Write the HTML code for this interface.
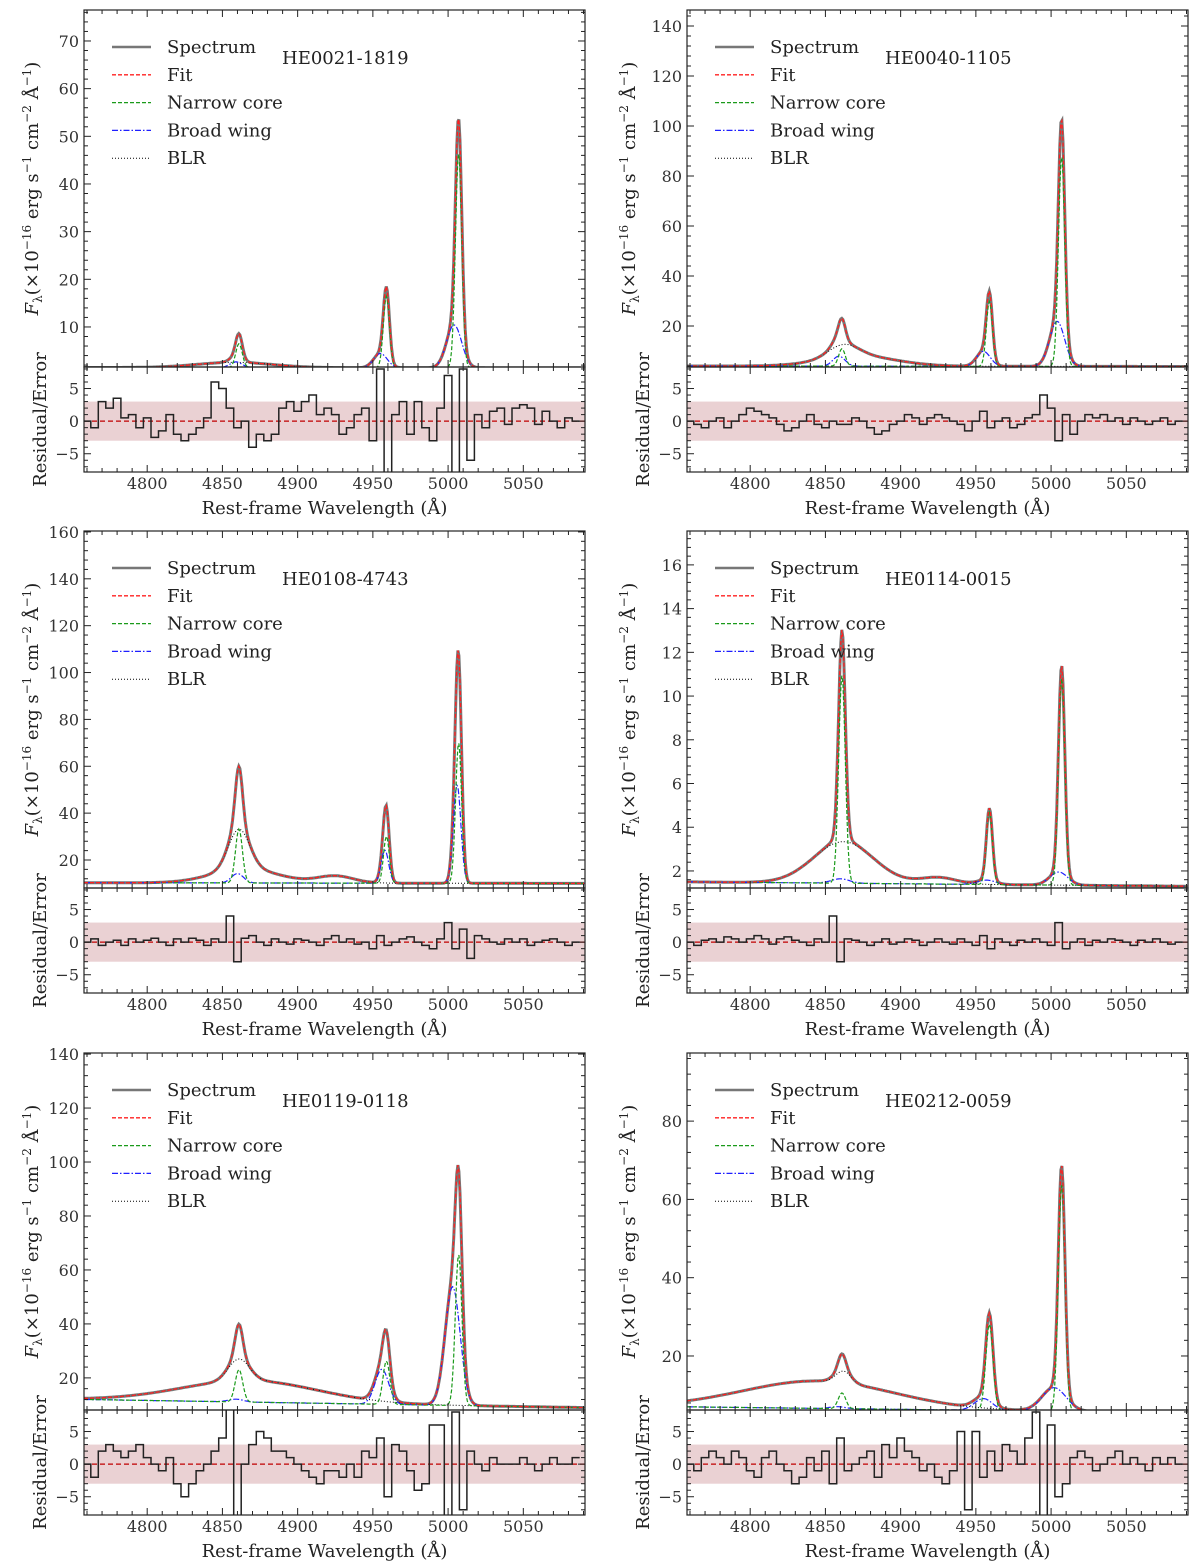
<!DOCTYPE html>
<html><head><meta charset="utf-8"><style>
body{margin:0;background:#fff;}
svg{display:block;font-family:"DejaVu Serif","Liberation Serif",serif;}
</style></head><body>
<svg id="fig" width="1200" height="1562" viewBox="0 0 1200 1562" xmlns="http://www.w3.org/2000/svg"></svg>
<script>
// ---- data ----
const xTicks = [4800,4850,4900,4950,5000,5050];
const residTicks = [-5,0,5];
const names = ["HE0021-1819","HE0040-1105","HE0108-4743","HE0114-0015","HE0119-0118","HE0212-0059"];
const yRanges = [[1.6,76.5],[3.6,146.4],[8.05,160.4],[1.22,17.55],[8.1,140.4],[6.2,97.4]];
const yTicks1=[10,20,30,40,50,60,70], yTicks2=[20,40,60,80,100,120,140], yTicks3=[20,40,60,80,100,120,140,160];
const yTicks4=[2,4,6,8,10,12,14,16], yTicks5=[20,40,60,80,100,120,140], yTicks6=[20,40,60,80];
// continuum [value at 4760, value at 5090]
const cont1=[1.5,1.4], cont2=[4,3.8], cont3=[10.3,10], cont4=[1.5,1.3], cont5=[12,9], cont6=[7,5.5];
// gaussian components [center, amplitude, sigma]
const narrow1=[[4861,5,2.2],[4959,15,2.0],[5007,45,2.1]];
const wing1=[[4859,1.2,4],[4955,3,4.5],[5004,9,5]];
const blr1=[[4858,1.1,25]];
const narrow2=[[4861,7,2.2],[4959,26,2.0],[5007,84,2.1]];
const wing2=[[4859,4,4],[4955,6,4.5],[5004,18,5]];
const blr2=[[4862,5,10],[4872,4,25]];
const narrow3=[[4861,23,2.3],[4959,20,1.9],[5007,60,2.0]];
const wing3=[[4860,4,4],[4958,14,2.5],[5006,42,2.5]];
const blr3=[[4861,17,7],[4865,6,22],[4925,3,12]];
const narrow4=[[4861,9.5,2.2],[4959,3.3,2.0],[5007,9.5,2.1]];
const wing4=[[4860,0.2,6],[4957,0.2,6],[5005,0.6,6]];
const blr4=[[4862,1.9,20],[4925,0.3,12]];
const narrow5=[[4861,12,2.5],[4959,16,2.3],[5007,56,2.2]];
const wing5=[[4859,1,5],[4956,13,4.5],[5003,44,5]];
const blr5=[[4861,8,7],[4868,8,45]];
const narrow6=[[4861,4,2.5],[4959,22,2.4],[5007,58,2.2]];
const wing6=[[4858,0.5,5],[4955,3,6],[5002,6,8]];
const blr6=[[4845,7,50],[4862,3,5]];
// residuals sampled every 5 A from 4760
const res1=[0,-1,3,2,3.5,0.5,1,-1,0.5,-2.5,-1.5,1,-2,-3,-2,-1,0.5,6,5,2,-1,0,-4,-2,-3,-2,2,3,1.5,3,4,1,2,1,-2,-1,1,2,-3,8,-8,1,3,-2,3,-1,-3,2,7,-8,8,-6,1,-1,1.5,2,-0.5,2,2.5,2,-0.5,1.5,0,-1,0.5,0];
const res2=[0,-0.5,-1,0,0.5,-1,0,1,2,1.5,1,0.5,-0.5,-1.5,-1,0,1,-0.5,-1,0,-0.5,-0.5,0.5,0,-1,-2,-1.5,-0.5,0,1,0.5,-0.5,0.5,1,0.5,0,-0.5,-1.5,0,1.5,-1,0,0.5,-1,-0.5,0.5,1,4,2,-3,1,-2,0,1,0.5,1,0,0.5,-0.5,0.5,0,-0.5,0,0.5,-0.5,0];
const res3=[0,0.5,-0.5,0,0.3,-0.5,0.5,0,0.3,0.6,0,-0.5,0.5,0,0.6,0.3,-0.5,0.5,0,4,-3,0.6,1,0,-0.5,0.5,0,-0.3,0.5,0.3,0,-0.5,0.5,1,0,0.5,-0.3,0,-1,1,-0.5,0,0.5,0.8,0,-0.5,-1,0.5,3,-1,2,-2.5,1,0.5,0,-0.3,0.5,0,0.5,-0.5,0,0.3,0.5,0,-0.5,0];
const res4=[0,-0.5,0.3,0.5,0,0.8,0.5,0,0.5,1,0.5,-0.3,0.5,0.8,0.3,0,-0.5,0.5,0,4,-3,0.5,0.3,0,-0.5,0,0.5,-0.3,0,0.5,0.3,-0.5,0,0.5,0,-0.3,0.5,0,-0.5,1,-1,0.5,0,-0.5,0.3,0,0.5,0,-0.5,3,-1,0,0.5,-0.5,0.3,0,0.5,0.3,0,-0.5,0.3,0,0.5,0,-0.3,0];
const res5=[0,-2,2,3,2,1,2,3,1,0,-1,1,-3,-5,-3,-1,0,2,4,9,-8,0,3,5,4,2,2,1,0,-1,-2,-3,-1,-1,-2,0,-2,2,1,4,-5,3,2,-1,-4,-3,6,6,-8,8,-7,2,0,-1,1,0,0,0,1,0,-1,0,1,0,0,1];
const res6=[0,-1,1,2,1,0,2,1,-1,-2,1,2,0,-1,-3,-2,1,-1,2,-3,4,-1,0,1,2,-2,3,1,4,2,1,-1,0,-2,-3,-1,5,-7,5,-2,2,-1,3,2,0,4,8,-8,6,-5,-3,1,2,1,-1,0,1,2,0,1,0,-1,1,0,1,0];

const panels=[
 {name:names[0],yr:yRanges[0],yt:yTicks1,cont:cont1,n:narrow1,w:wing1,b:blr1,r:res1,x0:84,top:10},
 {name:names[1],yr:yRanges[1],yt:yTicks2,cont:cont2,n:narrow2,w:wing2,b:blr2,r:res2,x0:687,top:10},
 {name:names[2],yr:yRanges[2],yt:yTicks3,cont:cont3,n:narrow3,w:wing3,b:blr3,r:res3,x0:84,top:531},
 {name:names[3],yr:yRanges[3],yt:yTicks4,cont:cont4,n:narrow4,w:wing4,b:blr4,r:res4,x0:687,top:531},
 {name:names[4],yr:yRanges[4],yt:yTicks5,cont:cont5,n:narrow5,w:wing5,b:blr5,r:res5,x0:84,top:1053},
 {name:names[5],yr:yRanges[5],yt:yTicks6,cont:cont6,n:narrow6,w:wing6,b:blr6,r:res6,x0:687,top:1053}
];
const NS="http://www.w3.org/2000/svg";
const svg=document.getElementById('fig');
function mk(tag,attrs,parent,text){const e=document.createElementNS(NS,tag);for(const k in attrs)e.setAttribute(k,attrs[k]);if(text!==undefined)e.textContent=text;parent.appendChild(e);return e;}
const XMIN=4758,XMAX=5091,W=501,UH=357,RH=105,RMIN=-7.8,RMAX=8.3;
function gsum(arr,x){let s=0;for(const c of arr)s+=c[1]*Math.exp(-0.5*((x-c[0])/c[2])**2);return s;}

panels.forEach((p,i)=>{
  const g=mk('g',{},svg);
  
  
  const x0=p.x0, top=p.top, mid=top+UH, bot=mid+RH;
  const sx=v=>x0+(v-XMIN)/(XMAX-XMIN)*W;
  const sy=v=>mid-(v-p.yr[0])/(p.yr[1]-p.yr[0])*UH;
  const sr=v=>bot-(v-RMIN)/(RMAX-RMIN)*RH;
  const contAt=x=>p.cont[0]+(p.cont[1]-p.cont[0])*(x-4760)/330;
  mk('clipPath',{id:'cu'+i},g);mk('rect',{x:x0,y:top,width:W,height:UH},g.lastChild);
  mk('clipPath',{id:'cr'+i},g);mk('rect',{x:x0,y:mid,width:W,height:RH},g.lastChild);
  const xs=[];for(let x=XMIN;x<=XMAX;x+=0.7)xs.push(x);
  const path=f=>xs.map((x,k)=>(k?'L':'M')+sx(x).toFixed(1)+','+sy(f(x)).toFixed(1)).join('');
  const fit=x=>contAt(x)+gsum(p.n,x)+gsum(p.w,x)+gsum(p.b,x);
  const cg=mk('g',{'clip-path':'url(#cu'+i+')'},g);
  const spec=mk('path',{d:path(fit),fill:'none',stroke:'#777',"stroke-width":3},cg);
  
  const blr=mk('path',{d:path(x=>contAt(x)+gsum(p.b,x)),fill:'none',stroke:'#000',"stroke-width":1,"stroke-dasharray":"1,2"},cg);
  
  const wing=mk('path',{d:path(x=>contAt(x)+gsum(p.w,x)),fill:'none',stroke:'#1f1fff',"stroke-width":1.2,"stroke-dasharray":"6,2,1.5,2"},cg);
  
  const nar=mk('path',{d:path(x=>contAt(x)+gsum(p.n,x)),fill:'none',stroke:'#1a9a1a',"stroke-width":1.2,"stroke-dasharray":"4,2"},cg);
  
  const fl=mk('path',{d:path(fit),fill:'none',stroke:'#ff2020',"stroke-width":1.3,"stroke-dasharray":"4,2"},cg);
  
  const rg=mk('g',{'clip-path':'url(#cr'+i+')'},g);
  const band=mk('rect',{x:x0,y:sr(3),width:W,height:sr(-3)-sr(3),fill:'#c47a80','fill-opacity':0.35},rg);
  
  const zl=mk('line',{x1:x0,x2:x0+W,y1:sr(0),y2:sr(0),stroke:'#c00000',"stroke-width":1.2,"stroke-dasharray":"5,3"},rg);
  
  let d='';p.r.forEach((v,k)=>{const xa=sx(4757.5+5*k),xb=sx(4762.5+5*k);d+=(k?'L':'M')+xa.toFixed(1)+','+sr(v).toFixed(1)+'L'+xb.toFixed(1)+','+sr(v).toFixed(1);});
  const rl=mk('path',{d:d,fill:'none',stroke:'#222',"stroke-width":1.5},rg);
  
  mk('rect',{x:x0,y:top,width:W,height:UH,fill:'none',stroke:'#222',"stroke-width":1.2},g);
  mk('rect',{x:x0,y:mid,width:W,height:RH,fill:'none',stroke:'#222',"stroke-width":1.2},g);
  for(let x=4760;x<=5090;x+=10){const X=sx(x),L=(x%50===0)?7:4;
    [[top,1],[mid,-1],[mid,1],[bot,-1]].forEach(([yy,dir])=>mk('line',{x1:X,x2:X,y1:yy,y2:yy+dir*L,stroke:'#222'},g));}
  xTicks.forEach(x=>{const t=mk('text',{x:sx(x),y:bot+17,"font-size":16,"text-anchor":"middle",fill:'#333'},g,String(x));
    });
  const xl=mk('text',{x:x0+W/2-10,y:bot+42,"font-size":18,"text-anchor":"middle",fill:'#222'},g,'Rest-frame Wavelength (Å)');
  
  const step=p.yt[1]-p.yt[0], minor=step/5;
  for(let v=Math.ceil(p.yr[0]/minor)*minor;v<=p.yr[1];v+=minor){const Y=sy(v);const maj=Math.abs(v/step-Math.round(v/step))<1e-6;const L=maj?7:4;
    mk('line',{x1:x0,x2:x0+L,y1:Y,y2:Y,stroke:'#222'},g);mk('line',{x1:x0+W,x2:x0+W-L,y1:Y,y2:Y,stroke:'#222'},g);}
  p.yt.forEach(v=>{const t=mk('text',{x:x0-5,y:sy(v)+6,"font-size":16,"text-anchor":"end",fill:'#333'},g,String(v));
    });
  for(let v=-7;v<=8;v++){const Y=sr(v),L=(v%5===0)?7:4;mk('line',{x1:x0,x2:x0+L,y1:Y,y2:Y,stroke:'#222'},g);mk('line',{x1:x0+W,x2:x0+W-L,y1:Y,y2:Y,stroke:'#222'},g);}
  residTicks.forEach(v=>{const t=mk('text',{x:x0-5,y:sr(v)+6,"font-size":16,"text-anchor":"end",fill:'#333'},g,v<0?'−'+(-v):String(v));
    });
  const ylx = (x0===84)? x0-46 : x0-52;
  const yl=mk('text',{transform:`translate(${ylx},${top+UH/2}) rotate(-90)`,"font-size":18,"text-anchor":"middle",fill:'#222'},g);
  
  yl.innerHTML='<tspan font-style="italic">F</tspan><tspan font-size="12" dy="4">λ</tspan><tspan dy="-4">(×10</tspan><tspan font-size="12" dy="-7">−16</tspan><tspan dy="7"> erg s</tspan><tspan font-size="12" dy="-7">−1</tspan><tspan dy="7"> cm</tspan><tspan font-size="12" dy="-7">−2</tspan><tspan dy="7"> Å</tspan><tspan font-size="12" dy="-7">−1</tspan><tspan dy="7">)</tspan>';
  const rlab=mk('text',{transform:`translate(${x0-38},${mid+RH/2}) rotate(-90)`,"font-size":18,"text-anchor":"middle",fill:'#222'},g,'Residual/Error');
  
  const lg=mk('g',{},g);
  const items=[['Spectrum','#777',2.5,'none'],['Fit','#ff2020',1.3,'4,2'],['Narrow core','#1a9a1a',1.3,'4,2'],['Broad wing','#1f1fff',1.3,'6,2,1.5,2'],['BLR','#000',1,'1,2']];
  items.forEach((it,k)=>{const Y=top+37+k*27.8;
    mk('line',{x1:x0+28,x2:x0+67,y1:Y,y2:Y,stroke:it[1],"stroke-width":it[2],"stroke-dasharray":it[3]},lg);
    const t=mk('text',{x:x0+83,y:Y+6,"font-size":18,fill:'#222'},lg,it[0]);
    });
  const tt=mk('text',{x:x0+198,y:top+54,"font-size":18,fill:'#222'},g,p.name);
  
});
</script>
</body></html>
